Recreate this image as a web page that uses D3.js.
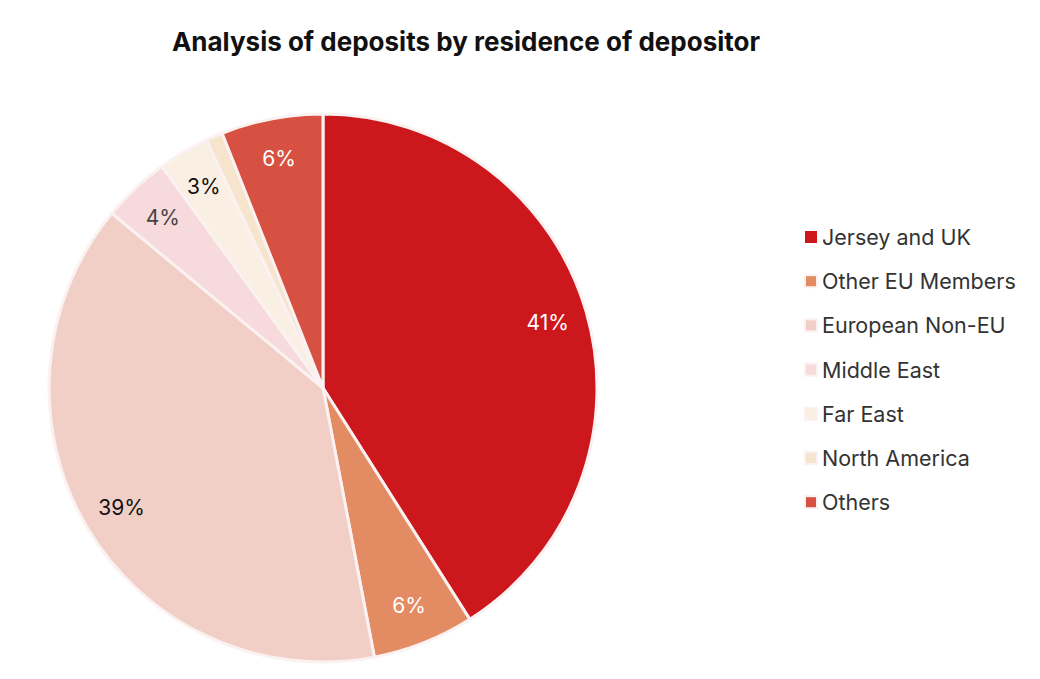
<!DOCTYPE html>
<html><head><meta charset="utf-8">
<script src="https://cdn.jsdelivr.net/npm/d3@7"></script>
<style>body{margin:0;background:#fff;font-family:Inter,"DejaVu Sans",sans-serif;}</style>
</head><body>
<svg id="c" width="1040" height="679"></svg>
<script>
const categories = ["Jersey and UK","Other EU Members","European Non-EU","Middle East","Far East","North America","Others"];
const values = [41,6,39,4,3,1,6];
const labels = ["41%","6%","39%","4%","3%","","6%"];
const colors = ["#cc171d","#e38b62","#f2cfc6","#f6dadc","#faefe3","#f6e4cd","#d75142"];
const labelColors = ["#fff","#fff","#111","#444","#111","#111","#fff"];

const svg = d3.select("#c");
const cx = 323, cy = 388, r = 274;
svg.append("text").attr("x",466).attr("y",51).attr("text-anchor","middle")
  .attr("font-size",26).attr("font-weight",700).attr("fill","#111")
  .text("Analysis of deposits by residence of depositor");

const pie = d3.pie().sort(null).value(d=>d)(values);
const arc = d3.arc().innerRadius(0).outerRadius(r);
const lab = d3.arc().innerRadius(234).outerRadius(234);
const g = svg.append("g").attr("transform",`translate(${cx},${cy})`);
g.selectAll("path").data(pie).join("path").attr("d",arc)
  .attr("fill",(d,i)=>colors[i]).attr("stroke","#fbf1f1").attr("stroke-width",3).attr("stroke-linejoin","round");
g.selectAll("text").data(pie).join("text")
  .attr("transform",d=>`translate(${lab.centroid(d)})`)
  .attr("text-anchor","middle").attr("dominant-baseline","central")
  .attr("font-size",21).attr("fill",(d,i)=>labelColors[i]).text((d,i)=>labels[i]);

const lg = svg.append("g").attr("transform","translate(805,237)");
const row = lg.selectAll("g").data(categories).join("g").attr("transform",(d,i)=>`translate(0,${i*44.2})`);
row.append("rect").attr("x",0).attr("y",-6).attr("width",12).attr("height",12)
  .attr("fill",(d,i)=>colors[i]).attr("stroke",(d,i)=>i===0?"none":"#fbf1f1").attr("stroke-width",2);
row.append("text").attr("x",17).attr("y",0).attr("dominant-baseline","central")
  .attr("font-size",21.5).attr("fill","#333").text(d=>d);
</script>
</body></html>
